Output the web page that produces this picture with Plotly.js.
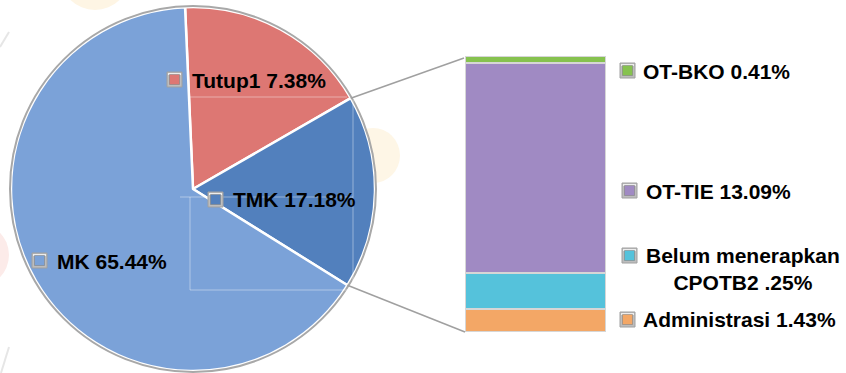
<!DOCTYPE html>
<html><head><meta charset="utf-8">
<script src="https://cdn.plot.ly/plotly-3.0.1.min.js"></script>
<style>html,body{margin:0;padding:0;overflow:hidden;background:#fff}#chart{width:846px;height:373px}</style>
</head><body><div id="chart"></div>
<script>
// ---- data ----
const pieLabels = ['Tutup', 'TMK', 'MK'];
const pieValues = [17.38, 17.18, 65.44];
const pieTexts = ['Tutup1 7.38%', 'TMK 17.18%', 'MK 65.44%'];
const pieColors = ['#DD7773', '#5280BD', '#7BA2D8'];

const barLabels = ['Administrasi', 'Belum menerapkan CPOTB', 'OT-TIE', 'OT-BKO'];
const barValues = [1.43, 2.25, 13.09, 0.41];
const barTexts = ['Administrasi 1.43%', 'Belum menerapkan<br>CPOTB2 .25%', 'OT-TIE 13.09%', 'OT-BKO 0.41%'];
const barColors = ['#F3A766', '#55C2DB', '#A08AC3', '#86C24F'];

// ---- layout geometry (pixels) ----
const W = 846, H = 373;
const PIE = {cx: 193, cy: 189, r: 182, rotation: -2.5};
const BAR = {left: 465, right: 606, top: 56, bottom: 332};
const px = x => x / W, py = y => 1 - y / H;

// label positions: [markerLeft, markerTop, textLeft, textCenterY]
const pieLabelPos = [[167, 72, 190, 80], [208, 192, 231, 199], [32, 253, 55, 261]];
const barLabelPos = [[620, 312, 641, 319], [622, 248, 644, 269], [622, 183, 644, 191], [620, 63, 641, 71]];

const pieTotal = pieValues.reduce((a, b) => a + b, 0);
const barTotal = barValues.reduce((a, b) => a + b, 0);

const traces = [];
traces.push({
  type: 'pie', labels: pieLabels, values: pieValues, sort: false, direction: 'clockwise',
  rotation: PIE.rotation, textinfo: 'none', hoverinfo: 'label+percent',
  marker: {colors: pieColors, line: {color: '#FFFFFF', width: 2.5}},
  domain: {x: [px(PIE.cx - PIE.r), px(PIE.cx + PIE.r)], y: [py(PIE.cy + PIE.r), py(PIE.cy - PIE.r)]},
  showlegend: false
});
barLabels.forEach((lab, i) => {
  traces.push({
    type: 'bar', x: [0], y: [barValues[i]], name: lab, width: 1,
    marker: {color: barColors[i], line: {color: '#D6D6D6', width: 2}},
    hoverinfo: 'name+y', showlegend: false
  });
});

const shapes = [];
// faint background watermark
shapes.push({type: 'circle', xref: 'paper', yref: 'paper', layer: 'below',
  x0: px(346), x1: px(400), y0: py(183), y1: py(128), fillcolor: '#FEF6E6', line: {width: 0}});
shapes.push({type: 'circle', xref: 'paper', yref: 'paper', layer: 'below',
  x0: px(60), x1: px(130), y0: py(10), y1: py(-60), fillcolor: '#FEF5E4', line: {width: 0}});
shapes.push({type: 'circle', xref: 'paper', yref: 'paper', layer: 'below',
  x0: px(-60), x1: px(9), y0: py(288), y1: py(222), fillcolor: '#FCEBE9', line: {width: 0}});
shapes.push({type: 'line', xref: 'paper', yref: 'paper', layer: 'below',
  x0: px(0), y0: py(47), x1: px(9), y1: py(32), line: {color: '#E6E6E6', width: 2}});
shapes.push({type: 'line', xref: 'paper', yref: 'paper', layer: 'below',
  x0: px(1), y0: py(373), x1: px(9), y1: py(347), line: {color: '#E6E6E6', width: 2}});

// outer rim of the pie
shapes.push({type: 'circle', xref: 'paper', yref: 'paper', layer: 'above',
  x0: px(PIE.cx - PIE.r - 1), x1: px(PIE.cx + PIE.r + 1), y0: py(PIE.cy + PIE.r + 1), y1: py(PIE.cy - PIE.r - 1),
  line: {color: '#A8A8A8', width: 2}});

// faint plot-area lines inside the pie
const faint = {color: 'rgba(255,255,255,0.4)', width: 1};
[[190, 97, 347, 97], [180, 197, 353, 197], [190, 197, 190, 290], [190, 290, 352, 290], [353, 100, 353, 290]].forEach(l => {
  shapes.push({type: 'line', xref: 'paper', yref: 'paper', layer: 'above',
    x0: px(l[0]), y0: py(l[1]), x1: px(l[2]), y1: py(l[3]), line: faint});
});

// connector lines from the TMK slice edges to the bar
const deg = Math.PI / 180;
const aTop = (PIE.rotation + 360 * pieValues[0] / pieTotal) * deg;
const aBot = aTop + 360 * pieValues[1] / pieTotal * deg;
const pTop = [PIE.cx + PIE.r * Math.sin(aTop), PIE.cy - PIE.r * Math.cos(aTop)];
const pBot = [PIE.cx + PIE.r * Math.sin(aBot), PIE.cy - PIE.r * Math.cos(aBot)];
const conn = {color: '#A0A0A0', width: 1.5};
shapes.push({type: 'line', xref: 'paper', yref: 'paper', layer: 'above',
  x0: px(pTop[0]), y0: py(pTop[1]), x1: px(BAR.left - 1), y1: py(BAR.top + 2), line: conn});
shapes.push({type: 'line', xref: 'paper', yref: 'paper', layer: 'above',
  x0: px(pBot[0]), y0: py(pBot[1]), x1: px(BAR.left), y1: py(BAR.bottom), line: conn});

// legend-key style markers and labels
const annotations = [];
function addLabel(pos, color, text) {
  const s = 15, inner = 10;
  shapes.push({type: 'rect', xref: 'paper', yref: 'paper', layer: 'above',
    x0: px(pos[0]), x1: px(pos[0] + s), y0: py(pos[1] + s), y1: py(pos[1]),
    fillcolor: '#BDBDBD', line: {color: '#A0A0A0', width: 1}});
  shapes.push({type: 'rect', xref: 'paper', yref: 'paper', layer: 'above',
    x0: px(pos[0] + 1), x1: px(pos[0] + s - 1), y0: py(pos[1] + 3), y1: py(pos[1] + 1),
    fillcolor: '#EDEDED', line: {width: 0}});
  const o = (s - inner) / 2;
  shapes.push({type: 'rect', xref: 'paper', yref: 'paper', layer: 'above',
    x0: px(pos[0] + o), x1: px(pos[0] + o + inner), y0: py(pos[1] + o + inner), y1: py(pos[1] + o),
    fillcolor: color, line: {color: '#7A7A7A', width: 0.5}});
  annotations.push({xref: 'paper', yref: 'paper', x: px(pos[2]), y: py(pos[3]),
    xanchor: 'left', yanchor: 'middle', align: 'center', showarrow: false,
    text: '<b>' + text + '</b>',
    font: {family: 'Liberation Sans, Arial, sans-serif', size: 21, color: '#000000'}});
}
pieTexts.forEach((t, i) => addLabel(pieLabelPos[i], pieColors[i], t));
barTexts.forEach((t, i) => addLabel(barLabelPos[i], barColors[i], t));

const layout = {
  width: W, height: H, margin: {l: 0, r: 0, t: 0, b: 0},
  paper_bgcolor: '#FFFFFF', plot_bgcolor: 'rgba(0,0,0,0)',
  barmode: 'stack', bargap: 0,
  xaxis: {domain: [px(BAR.left), px(BAR.right)], range: [-0.5, 0.5], visible: false, fixedrange: true},
  yaxis: {domain: [py(BAR.bottom), py(BAR.top)], range: [0, barTotal], visible: false, fixedrange: true},
  shapes: shapes, annotations: annotations, showlegend: false
};
Plotly.newPlot('chart', traces, layout, {displayModeBar: false, staticPlot: true});
</script></body></html>
